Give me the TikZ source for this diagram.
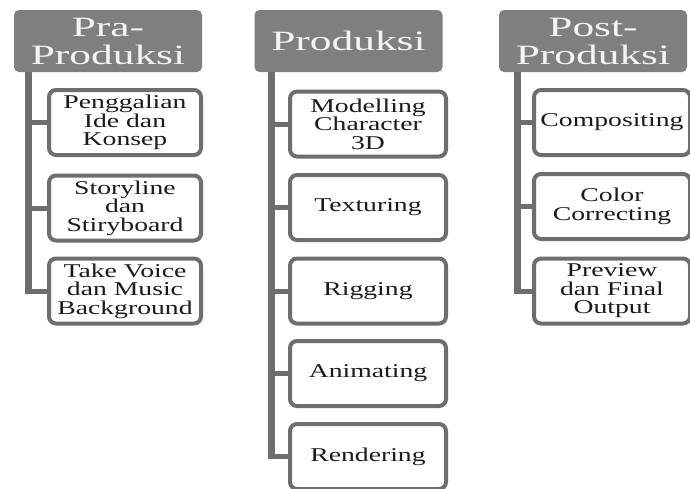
\documentclass[tikz,border=0pt]{standalone}
\usepackage{fontspec}
\setmainfont[FakeStretch=1.42]{Liberation Serif}
\newfontfamily\hdrfont[FakeStretch=1.55]{Liberation Serif}
\definecolor{hdrgray}{HTML}{7F7F7F}
\definecolor{linegray}{HTML}{6E6E6E}
\definecolor{txt}{HTML}{1A1A1A}
\definecolor{hdrtxt}{HTML}{F4F4F4}
\begin{document}
\begin{tikzpicture}[x=1pt,y=-1pt,
  hdr/.style={fill=hdrgray, rounded corners=5pt, text=hdrtxt, align=center,
    minimum width=188pt, minimum height=62pt, inner sep=0pt,
    font=\hdrfont\fontsize{28}{28}\selectfont},
  sub/.style={draw=linegray, line width=4pt, fill=white, rounded corners=7pt,
    text=txt, align=center, minimum width=154pt, minimum height=65pt, inner sep=0pt,
    font=\fontsize{19.5}{18.5}\selectfont},
  trunk/.style={draw=linegray, line width=7pt},
  branch/.style={draw=linegray, line width=5pt}]
\useasboundingbox (0,0) rectangle (690,488);
\clip (0,0) rectangle (690,488);
\fill[white] (0,0) rectangle (690,488);

% headers
\node[hdr] (h1) at (108,41) {Pra-\\Produksi};
\node[hdr] (h2) at (348.5,41) {Produksi};
\node[hdr] (h3) at (593,41) {Post-\\Produksi};

\coordinate (v1) at (28,72);
\coordinate (v2) at (271,72);
\coordinate (v3) at (517,72);

% column 1
\node[sub, minimum width=152pt] (a1) at (125,122.5) {Penggalian\\Ide dan\\Konsep};
\node[sub, minimum width=152pt] (a2) at (125,208) {Storyline\\dan\\Stiryboard};
\node[sub, minimum width=152pt] (a3) at (125,291) {Take Voice\\dan Music\\Background};

% column 2
\node[sub, minimum width=156pt] (b1) at (368,124) {Modelling\\Character\\3D};
\node[sub, minimum width=156pt] (b2) at (368,207.5) {Texturing};
\node[sub, minimum width=156pt] (b3) at (368,291) {Rigging};
\node[sub, minimum width=156pt] (b4) at (368,373.5) {Animating};
\node[sub, minimum width=156pt] (b5) at (368,456.5) {Rendering};

% column 3
\node[sub, minimum width=156pt] (c1) at (612,122.5) {Compositing};
\node[sub, minimum width=156pt] (c2) at (612,206.5) {Color\\Correcting};
\node[sub, minimum width=156pt] (c3) at (612,291) {Preview\\dan Final\\Output};

% connectors
\draw[trunk] (v1) -- (v1 |- a3.west);
\draw[branch] (v1 |- a1.west) -- (a1.west);
\draw[branch] (v1 |- a2.west) -- (a2.west);
\draw[branch] ([xshift=-3.5pt]v1 |- a3.west) -- (a3.west);

\draw[trunk] (v2) -- (v2 |- b5.west);
\draw[branch] (v2 |- b1.west) -- (b1.west);
\draw[branch] (v2 |- b2.west) -- (b2.west);
\draw[branch] (v2 |- b3.west) -- (b3.west);
\draw[branch] (v2 |- b4.west) -- (b4.west);
\draw[branch] ([xshift=-3.5pt]v2 |- b5.west) -- (b5.west);

\draw[trunk] (v3) -- (v3 |- c3.west);
\draw[branch] (v3 |- c1.west) -- (c1.west);
\draw[branch] (v3 |- c2.west) -- (c2.west);
\draw[branch] ([xshift=-3.5pt]v3 |- c3.west) -- (c3.west);
\end{tikzpicture}
\end{document}
